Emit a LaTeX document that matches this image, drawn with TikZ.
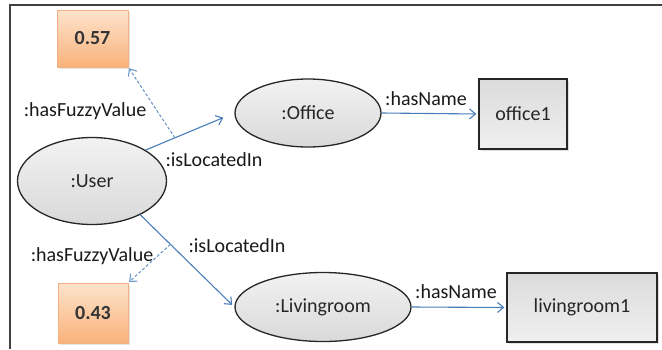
\documentclass[tikz,border=0pt]{standalone}
\usepackage{fontspec}
\setmainfont{Carlito}
\usetikzlibrary{shapes.geometric,arrows.meta,shadows}
\definecolor{edgeblue}{HTML}{4A7EBB}
\definecolor{orangetop}{HTML}{FDE3CC}
\definecolor{orangebot}{HTML}{F9B27A}
\definecolor{orangeline}{HTML}{F4B183}
\tikzset{
  every node/.style={font=\fontsize{20}{23}\selectfont, text=black!85},
  classnode/.style={ellipse, draw=black!85, line width=1.3pt, inner sep=0pt,
    top color=gray!10, bottom color=gray!30},
  valbox/.style={rectangle, draw=black!85, line width=1.3pt, inner sep=0pt,
    top color=gray!28, bottom color=gray!12,
    drop shadow={shadow xshift=1.5pt, shadow yshift=-1.5pt, opacity=0.25}},
  fuzzbox/.style={rectangle, draw=orangeline, line width=0.6pt, inner sep=0pt,
    top color=orangetop, bottom color=orangebot,
    font=\fontsize{20}{23}\selectfont\bfseries, text=black!80,
    drop shadow={shadow xshift=1.5pt, shadow yshift=-1.5pt, opacity=0.2}},
  rel/.style={draw=edgeblue, line width=1.1pt, -{Straight Barb[length=6pt,width=10pt]}},
  fuzzrel/.style={draw=edgeblue!80, line width=1.1pt, dash pattern=on 3pt off 2pt,
    -{Straight Barb[length=6pt,width=10pt]}},
  lbl/.style={inner sep=0pt, text=black!90},
}
\begin{document}
\begin{tikzpicture}[x=1pt,y=-1pt]
\useasboundingbox (0,0) rectangle (662,349);
% frame
\draw[line width=2pt, black!75] (10,349) -- (10,5) -- (662,5);

% nodes
\node[classnode, minimum width=149pt, minimum height=87pt] (user) at (92,181) {:User};
\node[classnode, minimum width=146pt, minimum height=68pt] (office) at (308,113) {:Office};
\node[classnode, minimum width=176pt, minimum height=69pt] (living) at (323,307) {:Livingroom};
\node[valbox, minimum width=88pt, minimum height=70pt] (office1) at (523,114) {office1};
\node[valbox, minimum width=150pt, minimum height=69pt] (living1) at (582,307.5) {livingroom1};
\node[fuzzbox, minimum width=71pt, minimum height=57pt] (v57) at (92.5,38.5) {0.57};
\node[fuzzbox, minimum width=70pt, minimum height=60pt] (v43) at (93,313) {0.43};

% relations
\draw[rel, shorten >=12pt] (user.30) -- (office.west) coordinate[pos=0.33] (m1);
\draw[rel, shorten >=3pt] (user.-35) -- (living.west) coordinate[pos=0.32] (m2);
\draw[rel, shorten >=2pt] (office.east) -- (office1.west);
\draw[rel, shorten >=2pt] (living.east) -- (living1.west);
\draw[fuzzrel, shorten >=1pt] (m1) -- (v57.south east);
\draw[fuzzrel, shorten >=1pt] (m2) -- (v43.north east);

% labels
\node[lbl] (lf1) at (85,111) {:hasFuzzyValue};
\node[lbl] (ll1) at (214,160) {:isLocatedIn};
\node[lbl] (ln1) at (426,99) {:hasName};
\node[lbl] (ll2) at (237,246) {:isLocatedIn};
\node[lbl] (lf2) at (92,256) {:hasFuzzyValue};
\node[lbl] (ln2) at (456,292) {:hasName};
\end{tikzpicture}
\end{document}
